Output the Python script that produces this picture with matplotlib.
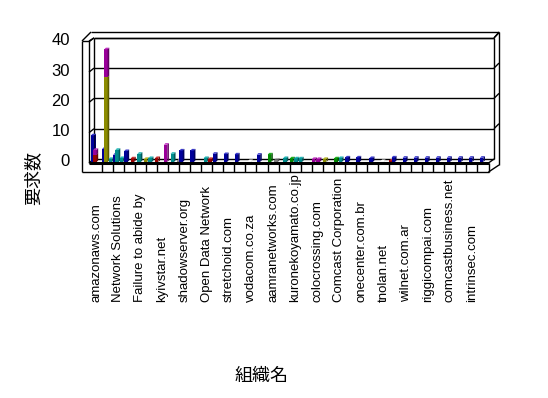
import matplotlib
matplotlib.use("Agg")
import matplotlib.pyplot as plt

# ---------------- data ----------------
tick_labels = ["amazonaws.com", "Network Solutions", "Failure to abide by", "kyivstar.net",
               "shadowserver.org", "Open Data Network", "stretchoid.com", "vodacom.co.za",
               "aamranetworks.com", "kuronekoyamato.co.jp", "colocrossing.com",
               "Comcast Corporation", "onecenter.com.br", "tnolan.net", "wilnet.com.ar",
               "riggicompai.com", "comcastbusiness.net", "intrinsec.com"]
n_categories = 36
y_ticks = [0, 10, 20, 30, 40]
y_title = "要求数"
x_title = "組織名"

# one list of values and colour codes per position inside a category cluster
slot0_values = [8.8, 4.3, 2.4, 3.6, 0, 0, 0, 0, 3.8, 3.8, 0, 2.7, 2.6, 2.5, 0, 2.4, 2.5, 0,
                1.2, 0, 1.0, 1.0, 1.2, 1.5, 1.5, 0, 0, 0.5, 0, 0, 0, 0, 0, 0, 0, 0]
slot0_colors = ["B", "B", "B", "B", "-", "-", "-", "-", "B", "B", "-", "B", "B", "B", "-", "B", "G", "-",
                "G", "-", "M", "O", "G", "B", "B", "-", "-", "R", "-", "-", "-", "-", "-", "-", "-", "-"]
slot1_values = [2.4, 28, 4.0, 0, 2.7, 1.3, 0, 2.7, 0, 0, 1.3, 0, 0, 0, 0.3, 0, 0, 0,
                0, 0, 0, 0, 0, 0, 0, 1.3, 0.3, 1.5, 1.4, 1.4, 1.4, 1.4, 1.4, 1.4, 1.4, 1.4]
slot1_colors = ["R", "O", "T", "-", "T", "T", "-", "T", "-", "-", "T", "-", "-", "-", "W", "-", "-", "-",
                "-", "-", "-", "-", "-", "-", "-", "B", "W", "B", "B", "B", "B", "B", "B", "B", "B", "B"]
slot1_top_values = [1.6, 9.2] + [0] * 34
slot1_top_colors = ["M", "M"] + ["-"] * 34
slot2_values = [0] * 17 + [1.3, 1.2, 0, 1.0, 0, 1.3] + [0] * 13
slot2_colors = ["-"] * 17 + ["T", "T", "-", "M", "-", "T"] + ["-"] * 13
slot3_values = [0, 1.0, 1.3, 1.2, 0, 0, 5.7, 0, 0, 0, 1.0, 0, 0, 0, 0, 0, 0.8] + [0] * 19
slot3_colors = ["-", "T", "T", "R", "-", "-", "M", "-", "-", "-", "R", "-", "-", "-", "-", "-", "Y"] + ["-"] * 19
slot4_values = [0, 0, 0, 0, 1.0, 1.3, 0, 0.5] + [0] * 10 + [1.2] + [0] * 17
slot4_colors = ["-", "-", "-", "-", "O", "R", "-", "Y"] + ["-"] * 10 + ["T"] + ["-"] * 17

# front, top, side shades
palette = {
    "B": ("#000099", "#3a3acc", "#000060"),
    "R": ("#990000", "#c83232", "#600000"),
    "M": ("#990099", "#c030c0", "#600060"),
    "O": ("#8c8c00", "#b4b420", "#5a5a00"),
    "T": ("#008c8c", "#20b4b4", "#005a5a"),
    "G": ("#008800", "#20b020", "#005500"),
    "Y": ("#808080", "#a8a8a8", "#555555"),
    "W": ("#ffffff", "#ffffff", "#dddddd"),
}

# ---------------- layout helpers (pixel geometry of the pseudo-3D frame) ----------------
W, H = 548, 398
CELL = 11.05
X0 = 90.7
BASE = 162.0
PXU = 3.03


def X(px):
    return (px - X0) / CELL


def Y(py):
    return (BASE - py) / PXU


fig = plt.figure(figsize=(W / 100, H / 100), dpi=100)
ax_l, ax_r, ax_t, ax_b = 82, 500, 31, 172
ax = fig.add_axes([ax_l / W, (H - ax_b) / H, (ax_r - ax_l) / W, (ax_b - ax_t) / H])
ax.set_xlim(X(ax_l), X(ax_r))
ax.set_ylim(Y(ax_b), Y(ax_t))
ax.axis("off")

LINE = dict(color="black", lw=1.0, clip_on=False, solid_capstyle="butt")


def seg(p, q, **kw):
    d = dict(LINE)
    d.update(kw)
    ax.plot([X(p[0]), X(q[0])], [Y(p[1]), Y(q[1])], **d)


# back wall
ax.fill([X(94), X(494), X(494), X(94)], [Y(38), Y(38), Y(159), Y(159)], color="white", zorder=0)
seg((94, 38), (494, 38))
seg((94, 38), (94, 159))
seg((494, 38), (494, 159))
seg((94, 159), (494, 159))
for v in y_ticks[1:]:
    yb = 159 - PXU * v
    seg((94, yb), (494, yb))
    seg((494, yb), (499, yb - 5))
    seg((89, yb + 4), (94, yb))
# outer frame
seg((91, 32), (499, 32))
seg((499, 32), (499, 165))
seg((494, 38), (499, 32))
seg((82, 41), (91, 32))
seg((89, 41), (94, 38))
seg((82, 41), (89, 41))
seg((82, 41), (82, 172))
seg((89, 41), (89, 163))
seg((89, 163), (94, 159))
# floor
seg((82, 172), (488.5, 172))
seg((488.5, 172), (499, 165))
seg((488.5, 163), (494, 159))
seg((488.5, 163), (488.5, 172))
for k in range(1, n_categories):
    xb = X0 + CELL * k
    seg((xb, 163), (xb, 172))

# ---------------- bars ----------------
dxp, dyp = 1.6, 1.6
ddx, ddy = dxp / CELL, dyp / PXU
bw = 3.4 / CELL


def draw_bar(x0, bottom, h, code, z):
    front, top, side = palette[code]
    ax.bar([x0], [h], bottom=[bottom], width=bw, align="edge", color=front,
           linewidth=0, zorder=z)
    t = bottom + h
    ax.fill([x0, x0 + bw, x0 + bw + ddx, x0 + ddx], [t, t, t + ddy, t + ddy],
            color=top, lw=0, zorder=z)
    ax.fill([x0 + bw, x0 + bw + ddx, x0 + bw + ddx, x0 + bw],
            [bottom, bottom + ddy, t + ddy, t], color=side, lw=0, zorder=z)


slots = [
    [(slot0_values, slot0_colors)],
    [(slot1_values, slot1_colors), (slot1_top_values, slot1_top_colors)],
    [(slot2_values, slot2_colors)],
    [(slot3_values, slot3_colors)],
    [(slot4_values, slot4_colors)],
]
z = 3
for k in range(n_categories):
    for j, stack in enumerate(slots):
        x0 = k + (0.3 + 2.2 * j) / CELL
        bottom = 0.0
        for vals, cols in stack:
            v = vals[k]
            if v > 0 and cols[k] != "-":
                draw_bar(x0, bottom, v, cols[k], z)
                z += 0.01
                bottom += v

# thick floor edge
seg((89, 163), (488.5, 163), lw=2.2, zorder=50)

# ---------------- text ----------------
latin = ["Liberation Sans", "DejaVu Sans"]
cjk = ["Noto Sans CJK JP", "DejaVu Sans"]
for v in y_ticks:
    ax.text(X(70), v, str(v), ha="right", va="center", fontsize=12, family=latin, clip_on=False)
for i, lab in enumerate(tick_labels):
    ax.text(2 * i + 0.5, Y(302), lab, rotation=90, ha="center", va="bottom",
            fontsize=9.5, family=latin, clip_on=False)
fig.text(33 / W, 1 - 178 / H, y_title, rotation=90, ha="center", va="center",
         fontsize=13, family=cjk)
fig.text(262 / W, 1 - 376 / H, x_title, ha="center", va="center", fontsize=13, family=cjk)

fig.savefig("out.png", dpi=100)
